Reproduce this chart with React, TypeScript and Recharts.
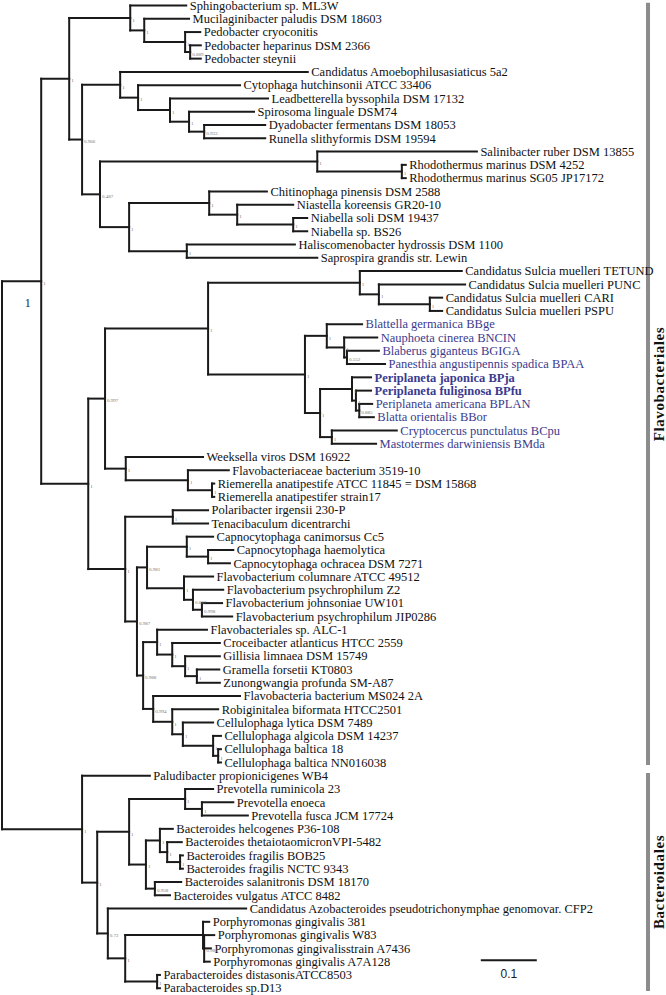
import { ComposedChart, XAxis, YAxis, ReferenceLine, Scatter } from "recharts";

// leaf taxa, top to bottom: [name, parent clade, distance from root]
const tips: [string, string, number][] = [
  ["Sphingobacterium sp. ML3W", "S", 0.329],
  ["Mucilaginibacter paludis DSM 18603", "M", 0.334],
  ["Pedobacter cryoconitis", "P", 0.354],
  ["Pedobacter heparinus DSM 2366", "P2", 0.355],
  ["Pedobacter steynii", "P2", 0.355],
  ["Candidatus Amoebophilusasiaticus 5a2", "Cy", 0.546],
  ["Cytophaga hutchinsonii ATCC 33406", "Cy2", 0.425],
  ["Leadbetterella byssophila DSM 17132", "L", 0.475],
  ["Spirosoma linguale DSM74", "Sp", 0.45],
  ["Dyadobacter fermentans DSM 18053", "D", 0.47],
  ["Runella slithyformis DSM 19594", "D", 0.47],
  ["Salinibacter ruber DSM 13855", "Sal", 0.848],
  ["Rhodothermus marinus DSM 4252", "Rh", 0.721],
  ["Rhodothermus marinus SG05 JP17172", "Rh", 0.721],
  ["Chitinophaga pinensis DSM 2588", "Chit", 0.473],
  ["Niastella koreensis GR20-10", "Nia", 0.52],
  ["Niabella soli DSM 19437", "Nb", 0.545],
  ["Niabella sp. BS26", "Nb", 0.545],
  ["Haliscomenobacter hydrossis DSM 1100", "Hal", 0.523],
  ["Saprospira grandis str. Lewin", "Hal", 0.563],
  ["Candidatus Sulcia muelleri TETUND", "Su", 0.821],
  ["Candidatus Sulcia muelleri PUNC", "Su2", 0.827],
  ["Candidatus Sulcia muelleri CARI", "Su3", 0.786],
  ["Candidatus Sulcia muelleri PSPU", "Su3", 0.786],
  ["Blattella germanica BBge", "Bg", 0.643],
  ["Nauphoeta cinerea BNCIN", "Na", 0.67],
  ["Blaberus giganteus BGIGA", "Bb", 0.673],
  ["Panesthia angustipennis spadica BPAA", "Bb", 0.684],
  ["Periplaneta japonica BPja", "Pp", 0.659],
  ["Periplaneta fuliginosa BPfu", "Pf", 0.659],
  ["Periplaneta americana BPLAN", "Pa", 0.661],
  ["Blatta orientalis BBor", "Pa", 0.664],
  ["Cryptocercus punctulatus BCpu", "Cm", 0.705],
  ["Mastotermes darwiniensis BMda", "Cm", 0.668],
  ["Weeksella viros DSM 16922", "Wk", 0.359],
  ["Flavobacteriaceae bacterium 3519-10", "Fl", 0.405],
  ["Riemerella anatipestife ATCC 11845 = DSM 15868", "Ri", 0.379],
  ["Riemerella anatipestifer strain17", "Ri", 0.379],
  ["Polaribacter irgensii 230-P", "PT", 0.368],
  ["Tenacibaculum dicentrarchi", "PT", 0.368],
  ["Capnocytophaga canimorsus Cc5", "Cap", 0.377],
  ["Capnocytophaga haemolytica", "Cap2", 0.413],
  ["Capnocytophaga ochracea DSM 7271", "Cap2", 0.407],
  ["Flavobacterium columnare ATCC 49512", "Fc", 0.377],
  ["Flavobacterium psychrophilum Z2", "Fp", 0.395],
  ["Flavobacterium johnsoniae UW101", "Fj", 0.393],
  ["Flavobacterium psychrophilum JIP0286", "Fj", 0.411],
  ["Flavobacteriales sp. ALC-1", "H", 0.366],
  ["Croceibacter atlanticus HTCC 2559", "I", 0.389],
  ["Gillisia limnaea DSM 15749", "Gi", 0.389],
  ["Gramella forsetii KT0803", "Gr", 0.388],
  ["Zunongwangia profunda SM-A87", "Gr", 0.389],
  ["Flavobacteria bacterium MS024 2A", "J", 0.425],
  ["Robiginitalea biformata HTCC2501", "K", 0.386],
  ["Cellulophaga lytica DSM 7489", "L2", 0.377],
  ["Cellulophaga algicola DSM 14237", "Ca", 0.391],
  ["Cellulophaga baltica 18", "Cb", 0.391],
  ["Cellulophaga baltica NN016038", "Cb", 0.391],
  ["Paludibacter propionicigenes WB4", "Bd", 0.264],
  ["Prevotella ruminicola 23", "Pr", 0.377],
  ["Prevotella enoeca", "Pr2", 0.413],
  ["Prevotella fusca JCM 17724", "Pr2", 0.439],
  ["Bacteroides helcogenes P36-108", "B1", 0.305],
  ["Bacteroides thetaiotaomicronVPI-5482", "B2", 0.321],
  ["Bacteroides fragilis BOB25", "B3", 0.323],
  ["Bacteroides fragilis NCTC 9343", "B3", 0.323],
  ["Bacteroides salanitronis DSM 18170", "Bs", 0.32],
  ["Bacteroides vulgatus ATCC 8482", "Bs", 0.3],
  ["Candidatus Azobacteroides pseudotrichonymphae genomovar. CFP2", "Az", 0.436],
  ["Porphyromonas gingivalis 381", "Pg2", 0.37],
  ["Porphyromonas gingivalis W83", "Pg3", 0.379],
  ["Porphyromonas gingivalisstrain A7436", "Pg3", 0.373],
  ["Porphyromonas gingivalis A7A128", "Pg3", 0.371],
  ["Parabacteroides distasonisATCC8503", "Pab", 0.282],
  ["Parabacteroides sp.D13", "Pab", 0.282],
];

// internal nodes: [id, parent, distance from root, posterior support]
const clades: [string, string, number, string][] = [
  ["root", "", 0, ""],
  ["F", "root", 0.07, "1"],
  ["A", "F", 0.12, "1"],
  ["S", "A", 0.229, "1"],
  ["M", "S", 0.254, "1"],
  ["P", "M", 0.327, "1"],
  ["P2", "P", 0.336, "0.889"],
  ["B", "A", 0.143, "0.966"],
  ["Cy", "B", 0.211, "1"],
  ["Cy2", "Cy", 0.243, "1"],
  ["L", "Cy2", 0.3, "1"],
  ["Sp", "L", 0.334, "1"],
  ["D", "Sp", 0.361, "0.933"],
  ["R", "B", 0.175, "0.487"],
  ["Sal", "R", 0.563, "1"],
  ["Rh", "Sal", 0.714, "1"],
  ["Ch", "R", 0.227, "1"],
  ["Chit", "Ch", 0.37, "1"],
  ["Nia", "Chit", 0.42, "1"],
  ["Nb", "Nia", 0.52, "1"],
  ["Hal", "Ch", 0.33, "1"],
  ["C", "F", 0.154, "1"],
  ["W", "C", 0.184, "0.997"],
  ["Bl", "W", 0.368, "1"],
  ["Su", "Bl", 0.639, "1"],
  ["Su2", "Su", 0.673, "1"],
  ["Su3", "Su2", 0.764, "1"],
  ["Ck", "Bl", 0.541, "1"],
  ["Bg", "Ck", 0.58, "1"],
  ["Na", "Bg", 0.611, "1"],
  ["Bb", "Na", 0.616, "0.552"],
  ["Pj", "Ck", 0.568, "1"],
  ["Pp", "Pj", 0.625, "1"],
  ["Pf", "Pp", 0.632, "1"],
  ["Pa", "Pf", 0.638, "0.885"],
  ["Cm", "Pj", 0.589, "1"],
  ["Wk", "W", 0.221, "1"],
  ["Fl", "Wk", 0.332, "1"],
  ["Ri", "Fl", 0.375, "1"],
  ["Po", "C", 0.22, "1"],
  ["PT", "Po", 0.305, "1"],
  ["Q", "Po", 0.241, "0.987"],
  ["Cp", "Q", 0.259, "0.981"],
  ["Cap", "Cp", 0.33, "1"],
  ["Cap2", "Cap", 0.368, "1"],
  ["Fc", "Cp", 0.325, "1"],
  ["Fp", "Fc", 0.341, "0.687"],
  ["Fj", "Fp", 0.357, "0.998"],
  ["G", "Q", 0.252, "0.988"],
  ["H", "G", 0.277, "1"],
  ["I", "H", 0.304, "1"],
  ["Gi", "I", 0.327, "1"],
  ["Gr", "Gi", 0.348, "1"],
  ["J", "G", 0.27, "0.994"],
  ["K", "J", 0.304, "1"],
  ["L2", "K", 0.323, "1"],
  ["Ca", "L2", 0.377, "1"],
  ["Cb", "Ca", 0.386, "1"],
  ["Bd", "root", 0.143, "1"],
  ["Bx", "Bd", 0.17, "1"],
  ["PB", "Bx", 0.227, "1"],
  ["Pr", "PB", 0.327, "1"],
  ["Pr2", "Pr", 0.357, "1"],
  ["Bc", "PB", 0.257, "1"],
  ["B1", "Bc", 0.282, "1"],
  ["B2", "B1", 0.295, "1"],
  ["B3", "B2", 0.318, "1"],
  ["Bs", "Bc", 0.273, "0.958"],
  ["Az", "Bx", 0.189, "0.72"],
  ["Pg", "Az", 0.22, "1"],
  ["Pg2", "Pg", 0.359, ""],
  ["Pg3", "Pg2", 0.361, "0.980"],
  ["Pab", "Pg", 0.277, "1"],
];

const cockroachHosts = [
  "Blattella germanica BBge",
  "Nauphoeta cinerea BNCIN",
  "Blaberus giganteus BGIGA",
  "Panesthia angustipennis spadica BPAA",
  "Periplaneta japonica BPja",
  "Periplaneta fuliginosa BPfu",
  "Periplaneta americana BPLAN",
  "Blatta orientalis BBor",
  "Cryptocercus punctulatus BCpu",
  "Mastotermes darwiniensis BMda",
];
const boldTaxa = ["Periplaneta japonica BPja", "Periplaneta fuliginosa BPfu"];

// orders: first and last leaf row
const groups: [string, number, number][] = [
  ["Flavobacteriales", 0, 57],
  ["Bacteroidales", 58, 74],
];

const scaleBar = { length: 0.1, start: 0.855, row: 71.9, label: "0.1" };
const rootNote = { text: "1", x: 0.046, row: 22.4 };

const W = 666;
const H = 995;
const X_DOMAIN = [-2 / 560, 664 / 560];
const Y_DOMAIN = [-5.5 / 13.28, (H - 5.5) / 13.28];
const GROUP_BAR_X = 1.1536;
const GROUP_LABEL_X = 1.1732;
const SERIF = '"Liberation Serif", "Times New Roman", serif';
const NARROW = '"Liberation Sans Narrow", "Liberation Sans", sans-serif';
const BLUE = "#3b3b8e";
const INK = "#1a1a1a";

// y of every node: leaves by row, clades at midpoint of their children
const depthOf: Record<string, number> = {};
const kids: Record<string, { y: () => number }[]> = {};
clades.forEach(([id, , d]) => {
  depthOf[id] = d;
  kids[id] = [];
});
const yCache: Record<string, number> = {};
const cladeY = (id: string): number => {
  if (yCache[id] === undefined) {
    const ys = kids[id].map((k) => k.y());
    yCache[id] = (Math.min(...ys) + Math.max(...ys)) / 2;
  }
  return yCache[id];
};
tips.forEach(([, parent], i) => kids[parent].push({ y: () => i }));
clades.forEach(([id, parent]) => {
  if (parent) kids[parent].push({ y: () => cladeY(id) });
});

type Seg = { x1: number; y1: number; x2: number; y2: number };
const segments: Seg[] = [];
clades.forEach(([id, parent, d]) => {
  const ys = kids[id].map((k) => k.y());
  segments.push({ x1: d, y1: Math.min(...ys), x2: d, y2: Math.max(...ys) });
  if (parent) {
    const y = cladeY(id);
    segments.push({ x1: depthOf[parent], y1: y, x2: d, y2: y });
  }
});
tips.forEach(([, parent, d], i) => {
  segments.push({ x1: depthOf[parent], y1: i, x2: d, y2: i });
});

const tipPoints = tips.map(([name, , d], i) => ({ x: d, y: i, name }));
const supportPoints = clades
  .filter(([, , , s]) => s)
  .map(([id, , d, s]) => ({ x: d, y: cladeY(id), name: s }));

const TipLabel = (props: any) => {
  const { cx, cy, payload } = props;
  const blue = cockroachHosts.includes(payload.name);
  return (
    <text
      x={cx + 3.5}
      y={cy}
      dy="0.34em"
      fontSize={12.5}
      fontFamily={SERIF}
      fontWeight={boldTaxa.includes(payload.name) ? "bold" : "normal"}
      fill={blue ? BLUE : "#111"}
      style={{ fill: blue ? BLUE : "#111" }}
    >
      {payload.name}
    </text>
  );
};

const SupportLabel = (props: any) => {
  const { cx, cy, payload } = props;
  return (
    <text x={cx + 2} y={cy + 2} dy="0.35em" fontSize={5} fontFamily={SERIF} fill="#777" style={{ fill: "#777" }}>
      {payload.name}
    </text>
  );
};

const GroupLabel = (props: any) => {
  const { cx, cy, payload } = props;
  return (
    <text
      x={cx}
      y={cy}
      dy="0.35em"
      textAnchor="middle"
      transform={`rotate(-90 ${cx} ${cy})`}
      fontSize={15}
      fontWeight="bold"
      fontFamily={SERIF}
      letterSpacing={0.6}
      fill="#111"
      style={{ fill: "#111" }}
    >
      {payload.name}
    </text>
  );
};

const ScaleLabel = (props: any) => {
  const { cx, cy, payload } = props;
  return (
    <text x={cx} y={cy + 13} dy="0.35em" textAnchor="middle" fontSize={12} fontFamily={NARROW} fill={INK} style={{ fill: INK }}>
      {payload.name}
    </text>
  );
};

const RootLabel = (props: any) => {
  const { cx, cy, payload } = props;
  return (
    <text x={cx} y={cy} dy="0.35em" textAnchor="middle" fontSize={12} fontFamily={SERIF} fill={INK} style={{ fill: INK }}>
      {payload.name}
    </text>
  );
};

export default function App() {
  const groupPoints = groups.map(([name, a, b]) => ({ x: GROUP_LABEL_X, y: (a + b) / 2, name }));
  const scalePoints = [{ x: scaleBar.start + scaleBar.length / 2, y: scaleBar.row, name: scaleBar.label }];
  const rootPoints = [{ x: rootNote.x, y: rootNote.row, name: rootNote.text }];

  return (
    <div style={{ position: "absolute", left: 0, top: 0, width: W, height: H, background: "#fff" }}>
      <ComposedChart width={W} height={H} margin={{ top: 0, right: 0, bottom: 0, left: 0 }}>
        <XAxis type="number" dataKey="x" domain={X_DOMAIN} allowDataOverflow hide />
        <YAxis type="number" dataKey="y" domain={Y_DOMAIN} allowDataOverflow reversed hide />
        {segments.map((s, i) => (
          <ReferenceLine
            key={`seg-${i}`}
            segment={[
              { x: s.x1, y: s.y1 },
              { x: s.x2, y: s.y2 },
            ]}
            stroke={INK}
            strokeWidth={2}
            strokeLinecap="square"
            ifOverflow="visible"
          />
        ))}
        {groups.map(([name, a, b]) => (
          <ReferenceLine
            key={name}
            segment={[
              { x: GROUP_BAR_X, y: a - 0.2 },
              { x: GROUP_BAR_X, y: b + 0.2 },
            ]}
            stroke="#8c8c8c"
            strokeWidth={4}
            ifOverflow="visible"
          />
        ))}
        <ReferenceLine
          segment={[
            { x: scaleBar.start, y: scaleBar.row },
            { x: scaleBar.start + scaleBar.length, y: scaleBar.row },
          ]}
          stroke={INK}
          strokeWidth={2}
          ifOverflow="visible"
        />
        <Scatter data={tipPoints} shape={TipLabel} isAnimationActive={false} />
        <Scatter data={supportPoints} shape={SupportLabel} isAnimationActive={false} />
        <Scatter data={groupPoints} shape={GroupLabel} isAnimationActive={false} />
        <Scatter data={scalePoints} shape={ScaleLabel} isAnimationActive={false} />
        <Scatter data={rootPoints} shape={RootLabel} fill={INK} isAnimationActive={false} />
      </ComposedChart>
    </div>
  );
}
